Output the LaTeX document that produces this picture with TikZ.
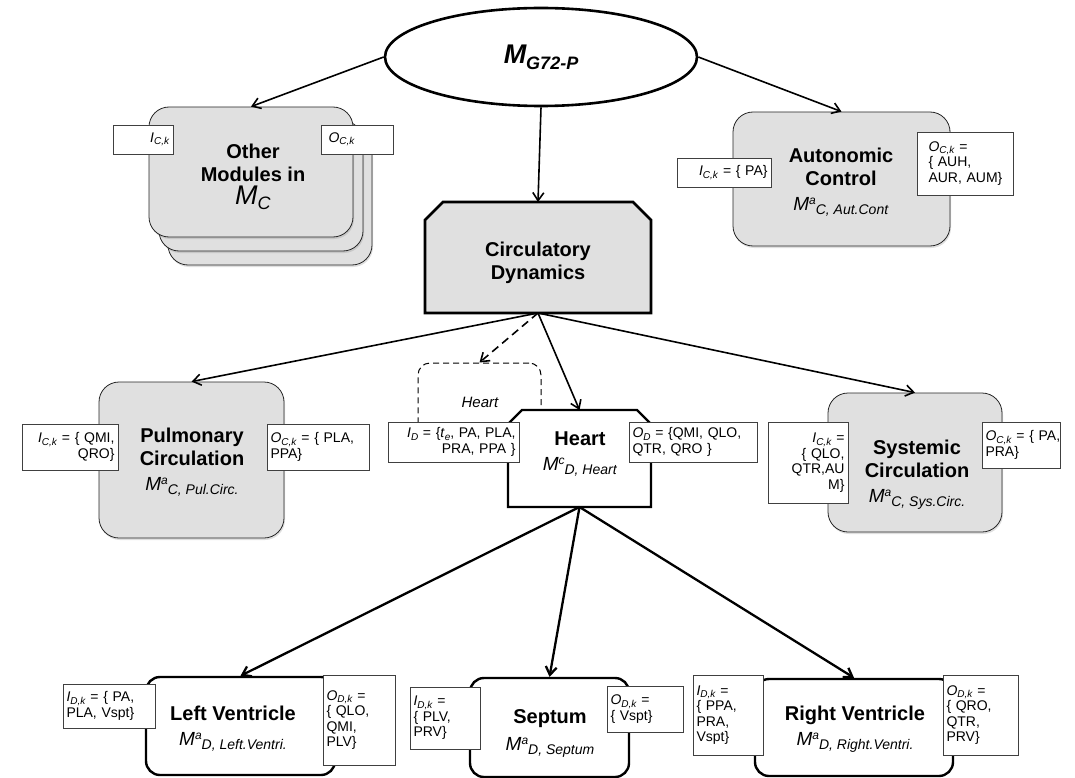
\documentclass[tikz,border=0pt]{standalone}
\usepackage{fontspec}
\setmainfont{Liberation Sans}
\usetikzlibrary{shapes.geometric, arrows.meta, shadows}

\newcommand{\io}[2]{\textit{#1}\raisebox{-2.5pt}{\fontsize{10}{10}\selectfont\textit{#2}}}
\newcommand{\modsym}[2]{{\fontsize{19}{21}\selectfont\textit{M}}\raisebox{6pt}{\fontsize{12}{12}\selectfont\textit{#1}}\raisebox{-4pt}{\fontsize{14}{14}\selectfont\textit{#2}}}

\begin{document}
\begin{tikzpicture}[x=1pt, y=-1pt, font=\fontsize{14}{15.5}\selectfont]
\tikzstyle{arr}=[-{Straight Barb[length=8pt,width=11pt]}, line width=1.6pt]
\tikzstyle{heavyarr}=[arr, line width=2.3pt]
\tikzstyle{graybox}=[draw=black!85, line width=0.8pt, fill=black!12, rounded corners=20pt, drop shadow={opacity=0.25, shadow xshift=1pt, shadow yshift=-2pt}]
\tikzstyle{whitebox}=[draw, line width=2.4pt, fill=white, rounded corners=14pt]
\tikzstyle{anchorbox}=[inner sep=0pt, outer sep=0pt]
\tikzstyle{iobox}=[draw=black!75, line width=0.7pt, fill=white, inner xsep=3.5pt, inner ysep=3pt]
\tikzstyle{ibox}=[iobox, align=right]
\tikzstyle{obox}=[iobox, align=left]
\tikzstyle{title}=[align=center, font=\fontsize{20}{23}\selectfont\bfseries]
\useasboundingbox (0,0) rectangle (1075,778);

% top level model
\node[ellipse, draw, line width=2.6pt, minimum width=312pt, minimum height=98pt, inner sep=0pt] (mg) at (541,57) {\fontsize{27}{28}\selectfont\bfseries\itshape M\raisebox{-6pt}{\fontsize{18}{18}\selectfont G72-P}};

% other modules (stacked)
\node[graybox, minimum width=204pt, minimum height=130pt] (om3) at (270,200) {};
\node[graybox, minimum width=204pt, minimum height=130pt] (om2) at (261,186) {};
\node[graybox, minimum width=204pt, minimum height=130pt] (om) at (251,172) {};
\node[title] (omT) at (253,177) {Other\\Modules in\\{\mdseries\fontsize{27}{28}\selectfont\textit{M}\raisebox{-5pt}{\fontsize{18}{18}\selectfont\textit{C}}}};
\node[ibox, text width=53pt, minimum height=29pt] (omI) at (143,139.5) {\io{I}{C,k}\hspace*{8pt}};
\node[obox, text width=65pt, minimum height=29pt] (omO) at (357,139.5) {\hspace*{4pt}\io{O}{C,k}};

% autonomic control
\node[graybox, minimum width=217pt, minimum height=134pt] (ac) at (841.5,179) {};
\node[title] (acT) at (841,182) {Autonomic\\Control\\[2pt]{\mdseries\modsym{a}{C, Aut.Cont}}};
\node[ibox, text width=87pt, minimum height=29pt] (acI) at (724,172.5) {\io{I}{C,k} = \{ PA\}\hspace*{6pt}};
\node[obox, text width=89pt, minimum height=63pt] (acO) at (965,163.5) {\hspace*{8pt}\io{O}{C,k} =\\\hspace*{8pt}\{ AUH,\\\hspace*{8pt}AUR, AUM\}};

% circulatory dynamics
\node[anchorbox, minimum width=226pt, minimum height=111pt] (cd) at (538,257.5) {};
\filldraw[line width=2.6pt, fill=black!12] (cd.south west) -- ([yshift=-18pt]cd.north west) -- ([xshift=18pt]cd.north west) -- ([xshift=-18pt]cd.north east) -- ([yshift=-18pt]cd.north east) -- (cd.south east) -- cycle;
\node[title] (cdT) at (538,263) {Circulatory\\Dynamics};

% pulmonary circulation
\node[graybox, minimum width=185pt, minimum height=156pt] (pc) at (191.5,460) {};
\node[title] (pcT) at (192,462) {Pulmonary\\Circulation\\[2pt]{\mdseries\modsym{a}{C, Pul.Circ.}}};
\node[ibox, text width=89pt, minimum height=46pt] (pcI) at (70,447) {\io{I}{C,k} = \{ QMI,\\QRO\}};
\node[obox, text width=95pt, minimum height=46pt] (pcO) at (318,447) {\io{O}{C,k} = \{ PLA,\\PPA\}};

% heart view (dashed)
\node[draw, dash pattern=on 6pt off 4pt, line width=1pt, rounded corners=12pt, minimum width=123pt, minimum height=92pt] (hv) at (479.5,409) {};
\node[font=\fontsize{15}{17}\selectfont\itshape] (hvT) at (480,402) {Heart};

% heart
\node[anchorbox, minimum width=143pt, minimum height=97pt] (ht) at (579.5,458.5) {};
\filldraw[line width=2.4pt, fill=white] (ht.south west) -- ([yshift=-14pt]ht.north west) -- ([xshift=14pt]ht.north west) -- ([xshift=-14pt]ht.north east) -- ([yshift=-14pt]ht.north east) -- (ht.south east) -- cycle;
\node[title] (htT) at (580,454) {Heart\\[2pt]{\mdseries\modsym{c}{D, Heart}}};
\node[ibox, text width=124pt, minimum height=40pt] (htI) at (453.5,442) {\io{I}{D} = \{\io{t}{e}, PA, PLA,\\PRA, PPA \}};
\node[obox, text width=121pt, minimum height=40pt] (htO) at (693,442) {\io{O}{D} = \{QMI, QLO,\\QTR, QRO \}};

% systemic circulation
\node[graybox, minimum width=174pt, minimum height=139pt] (sc) at (915,462.5) {};
\node[title] (scT) at (917,475) {Systemic\\Circulation\\[2pt]{\mdseries\modsym{a}{C, Sys.Circ.}}};
\node[ibox, text width=73pt, minimum height=81pt] (scI) at (808,462.5) {\io{I}{C,k} =\\\{ QLO,\\QTR,AU\\M\}};
\node[obox, text width=71pt, minimum height=46pt] (scO) at (1021,445) {\io{O}{C,k}~=~\{~PA,\\PRA\}};

% ventricles and septum
\node[whitebox, minimum width=189pt, minimum height=98pt] (lv) at (240.5,726) {};
\node[title] (lvT) at (233,729) {Left Ventricle\\[2pt]{\mdseries\modsym{a}{D, Left.Ventri.}}};
\node[obox, text width=85pt, minimum height=44pt] (lvI) at (109,706) {\io{I}{D,k} = \{ PA,\\PLA, Vspt\}};
\node[obox, text width=65pt, minimum height=90pt] (lvO) at (359,720) {\io{O}{D,k} =\\\{ QLO,\\QMI,\\PLV\}};

\node[whitebox, minimum width=159pt, minimum height=99pt] (sp) at (549.5,727.5) {};
\node[title] (spT) at (550,733) {Septum\\[4pt]{\mdseries\modsym{a}{D, Septum}}};
\node[obox, text width=63pt, minimum height=62pt] (spI) at (445,718) {\io{I}{D,k} =\\\{ PLV,\\PRV\}};
\node[obox, text width=69pt, minimum height=46pt] (spO) at (645,709) {\io{O}{D,k} =\\\{ Vspt\}};

\node[whitebox, minimum width=198pt, minimum height=97pt] (rv) at (854,727.5) {};
\node[title] (rvT) at (855,729) {Right Ventricle\\[2pt]{\mdseries\modsym{a}{D, Right.Ventri.}}};
\node[obox, text width=63pt, minimum height=80pt] (rvI) at (728,715) {\io{I}{D,k} =\\\{ PPA,\\PRA,\\Vspt\}};
\node[obox, text width=68pt, minimum height=80pt] (rvO) at (980.5,715) {\io{O}{D,k} =\\\{ QRO,\\QTR,\\PRV\}};

% connectors
\draw[arr] (mg.west) -- (om.north);
\draw[arr] (mg.east) -- (ac.north);
\draw[arr] (mg.south) -- (cd.north);
\draw[arr] (cd.south) -- (pc.north);
\draw[arr, dash pattern=on 8pt off 5pt] (cd.south) -- (hv.north);
\draw[arr] (cd.south) -- (ht.north);
\draw[arr] (cd.south) -- (sc.north);
\draw[heavyarr] (ht.south) -- (lv.north);
\draw[heavyarr] (ht.south) -- (sp.north);
\draw[heavyarr] (ht.south) -- (rv.north);
\end{tikzpicture}
\end{document}
